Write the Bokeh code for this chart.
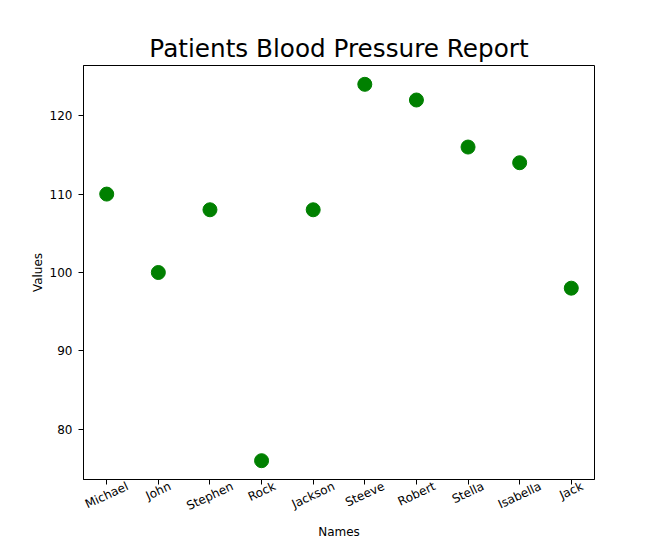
from bokeh.plotting import figure
from bokeh.models import Range1d, FixedTicker, LinearAxis, Title
from bokeh.embed import file_html
from bokeh.resources import INLINE
import math

names = ["Michael", "John", "Stephen", "Rock", "Jackson", "Steeve", "Robert", "Stella", "Isabella", "Jack"]
values = [110, 100, 108, 76, 108, 124, 122, 116, 114, 98]
y_ticks = [80, 90, 100, 110, 120]

xs = list(range(len(names)))
span = max(values) - min(values)
y0 = min(values) - 0.05 * span
y1 = max(values) + 0.05 * span
x0, x1 = -0.45, len(names) - 1 + 0.45

W, H = 660, 538
BL, BR, BT, BB = 83, 66, 65, 59
FS = 12  # px, tick / axis label font size
ANG = math.radians(25)

# DejaVu Sans advance widths (em) used to centre rotated labels like matplotlib
EM = {"a": .613, "b": .635, "c": .550, "e": .615, "h": .634, "i": .278, "k": .579,
      "l": .278, "n": .634, "o": .612, "p": .635, "r": .411, "s": .521, "t": .392,
      "v": .592, "I": .295, "J": .295, "M": .863, "R": .695, "S": .635}

def text_w(s):
    return sum(EM.get(ch, .6) for ch in s) * FS

p = figure(width=W, height=H, output_backend="svg", toolbar_location=None,
           x_range=Range1d(x0, x1), y_range=Range1d(y0, y1),
           min_border_left=BL, min_border_right=BR, min_border_top=BT, min_border_bottom=BB)

p.scatter(xs, values, size=14, color="#008000")

p.title.text = "Patients Blood Pressure Report"
p.title.align = "center"
p.title.text_font = "DejaVu Sans"
p.title.text_font_size = "24.7px"
p.title.text_font_style = "normal"
p.title.text_color = "black"
p.title.standoff = 6

p.xgrid.visible = False
p.ygrid.visible = False
p.outline_line_color = "black"
p.outline_line_width = 1

p.xaxis.ticker = FixedTicker(ticks=xs)
p.xaxis.major_label_overrides = {i: "" for i in xs}
p.xaxis.major_label_standoff = 0
p.yaxis.ticker = FixedTicker(ticks=y_ticks)

for ax in (p.xaxis[0], p.yaxis[0]):
    ax.major_label_text_font = "DejaVu Sans"
    ax.major_label_text_font_size = f"{FS}px"
    ax.major_label_text_color = "black"
    ax.axis_label_text_font = "DejaVu Sans"
    ax.axis_label_text_font_size = f"{FS}px"
    ax.axis_label_text_font_style = "normal"
    ax.axis_label_text_color = "black"
    ax.minor_tick_line_color = None
    ax.major_tick_out = 5
    ax.major_tick_in = 0
    ax.axis_line_color = "black"
    ax.major_tick_line_color = "black"

p.yaxis.axis_label = "Values"
p.yaxis.axis_label_standoff = 2
p.yaxis.major_label_standoff = 6

# second, label-only axis: each label's tick shifted so that its rotated text is centred on the category
frame_w = W - BL - BR
unit_px = frame_w / (x1 - x0)
label_ticks = [i + (text_w(n) / 2 * math.cos(ANG)) / unit_px for i, n in enumerate(names)]
lab_axis = LinearAxis(ticker=FixedTicker(ticks=label_ticks),
                      major_label_overrides={t: n for t, n in zip(label_ticks, names)},
                      major_label_orientation=ANG, major_tick_out=0, major_tick_in=0,
                      axis_line_color=None, minor_tick_line_color=None,
                      major_label_standoff=1,
                      major_label_text_font="DejaVu Sans", major_label_text_font_size=f"{FS}px",
                      major_label_text_color="black")
p.add_layout(lab_axis, "below")

p.add_layout(Title(text="Names", align="center", text_font="DejaVu Sans", standoff=0,
                   text_font_size=f"{FS}px", text_font_style="normal", text_color="black"), "below")

open("out.html", "w").write(file_html(p, INLINE))
